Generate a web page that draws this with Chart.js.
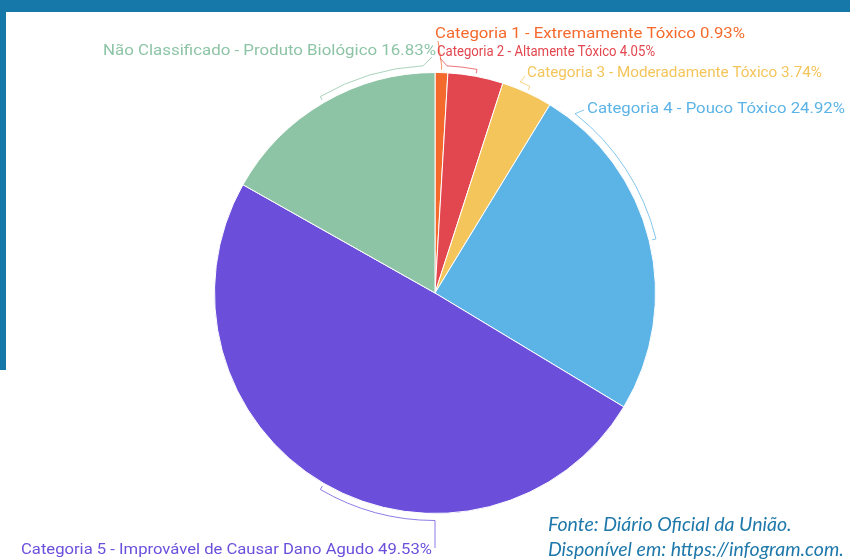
<!DOCTYPE html>
<html>
<head>
<meta charset="utf-8">
<script src="https://cdn.jsdelivr.net/npm/chart.js@4"></script>
<style>
  html, body { margin:0; padding:0; width:850px; height:559px; overflow:hidden; background:#fff; }
  #wrap { position:relative; width:850px; height:559px; overflow:hidden; }
  canvas { position:absolute; left:0; top:0; }
  .band { position:absolute; background:#1677a9; }
  .src { position:absolute; left:548px; font-family:Lato, sans-serif; font-style:italic; font-size:19.5px; color:#1f78aa; white-space:nowrap; line-height:22px; }
</style>
</head>
<body>
<div id="wrap">
  <canvas id="c" width="850" height="559"></canvas>
  <div class="band" style="left:0;top:0;width:850px;height:12px;"></div>
  <div class="band" style="left:0;top:0;width:6px;height:370px;"></div>
  <div class="src" style="top:513px;">Fonte: Diário Oficial da União.</div>
  <div class="src" style="top:538px;">Disponível em: https://infogram.com.</div>
</div>
<script>
const categories = [
  'Categoria 1 - Extremamente Tóxico',
  'Categoria 2 - Altamente Tóxico',
  'Categoria 3 - Moderadamente Tóxico',
  'Categoria 4 - Pouco Tóxico',
  'Categoria 5 - Improvável de Causar Dano Agudo',
  'Não Classificado - Produto Biológico'
];
const values = [0.93, 4.05, 3.74, 24.92, 49.53, 16.83];
const colors = ['#f46a2c', '#e2474f', '#f4c55a', '#5cb3e6', '#6b4fdb', '#8dc4a5'];

// label layout (positions only)
const labelLayout = [
  { anchor: 1.7,  tx: 435, ty: 34,  align: 'left',  w: 310, ex: 438, ey: 41 },
  { anchor: 3,    tx: 437, ty: 52,  align: 'left',  w: 218, ex: 440, ey: 58 },
  { anchor: 22,   tx: 527, ty: 73,  align: 'left',  w: 295, ex: 525, ey: 76 },
  { anchor: 38,   tx: 587, ty: 109, align: 'left',  w: 258, ex: 584, ey: 110 },
  { anchor: 180,  tx: 432, ty: 550, align: 'right', w: 411, ex: 435, ey: 548 },
  { anchor: 357,  tx: 436, ty: 51,  align: 'right', w: 333, ex: 432, ey: 57 }
];

const labelPlugin = {
  id: 'bracketLabels',
  afterDraw(chart) {
    const ctx = chart.ctx;
    const meta = chart.getDatasetMeta(0);
    meta.data.forEach((arc, i) => {
      const p = arc.getProps(['x','y','startAngle','endAngle','outerRadius'], true);
      const L = labelLayout[i];
      const R = p.outerRadius + 7;
      const mid = (p.startAngle + p.endAngle) / 2;
      const anc = (L.anchor - 90) * Math.PI / 180;
      ctx.save();
      ctx.strokeStyle = colors[i];
      ctx.globalAlpha = 0.75;
      ctx.lineWidth = 1;
      ctx.beginPath();
      ctx.moveTo(p.x + Math.cos(mid) * (R - 4), p.y + Math.sin(mid) * (R - 4));
      ctx.lineTo(p.x + Math.cos(mid) * R, p.y + Math.sin(mid) * R);
      if (Math.abs(anc - mid) > 0.001) {
        ctx.arc(p.x, p.y, R, mid, anc, anc < mid);
      }
      ctx.lineTo(L.ex, L.ey);
      ctx.stroke();
      ctx.restore();

      const text = categories[i] + ' ' + values[i].toFixed(2) + '%';
      ctx.save();
      ctx.font = '14px Roboto';
      ctx.fillStyle = colors[i];
      ctx.textBaseline = 'middle';
      ctx.textAlign = L.align;
      const w = ctx.measureText(text).width;
      ctx.translate(L.tx, L.ty);
      ctx.scale(L.w / w, 1);
      ctx.fillText(text, 0, 0);
      ctx.restore();
    });
  }
};

new Chart(document.getElementById('c'), {
  type: 'pie',
  data: {
    labels: categories,
    datasets: [{
      data: values,
      backgroundColor: colors,
      borderColor: '#ffffff',
      borderWidth: 1
    }]
  },
  options: {
    responsive: false,
    devicePixelRatio: 1,
    animation: false,
    layout: { padding: { top: 72, bottom: 45, left: 214, right: 194 } },
    plugins: { legend: { display: false }, tooltip: { enabled: false } }
  },
  plugins: [labelPlugin]
});
</script>
</body>
</html>
